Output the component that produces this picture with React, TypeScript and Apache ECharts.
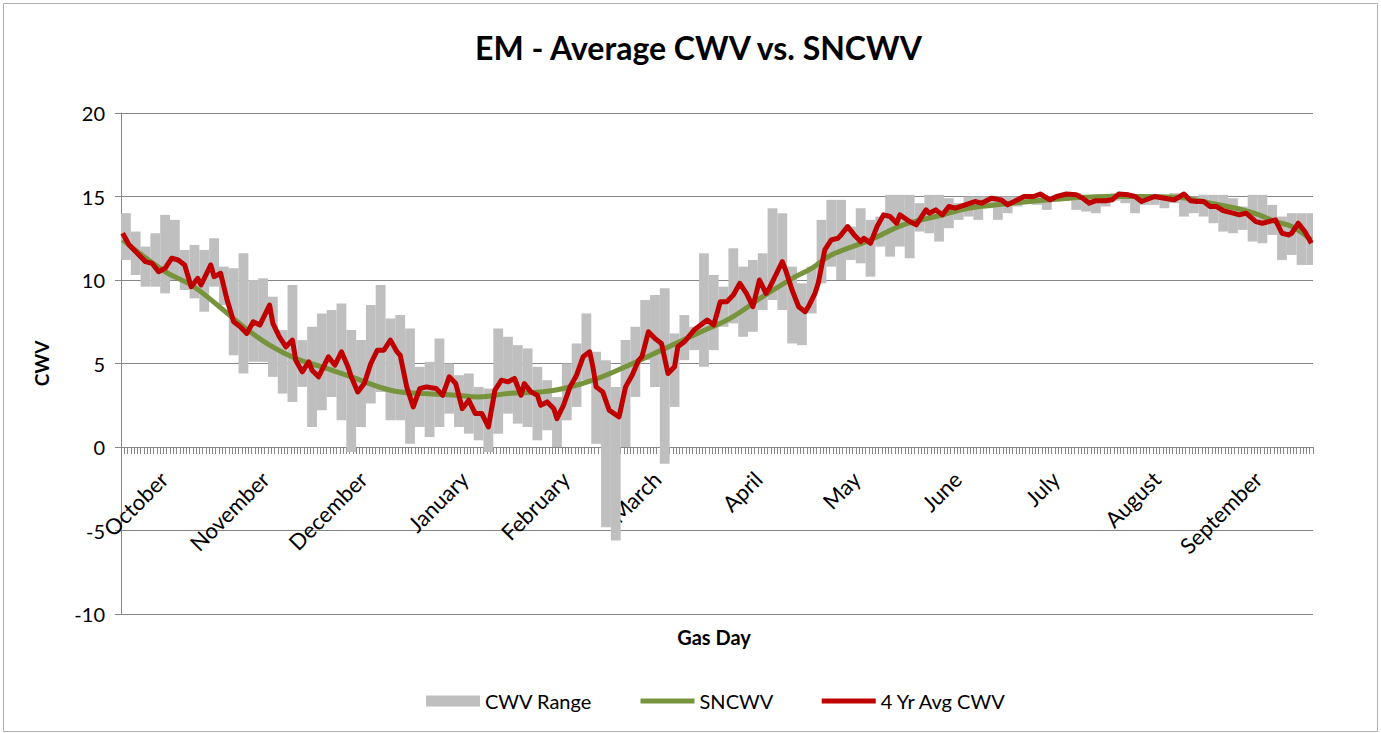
import React, { useEffect, useRef } from "react";
import * as echarts from "echarts";

// ---- categories: gas days Oct 1 .. Sep 30 ----
const months = ["October", "November", "December", "January", "February", "March", "April", "May", "June", "July", "August", "September"];
const monthDays = [31, 30, 31, 31, 28, 31, 30, 31, 30, 31, 31, 30];
const categories: string[] = months.flatMap((m, i) =>
  Array.from({ length: monthDays[i] }, (_, d) => `${m} ${d + 1}`)
);
const yTicks = [-10, -5, 0, 5, 10, 15, 20];

// ---- CWV Range: min / max per 3-day block (block i starts on day i*3) ----
const rangeHigh = [
  14.0, 12.9, 12.0, 12.8, 13.9, 13.6, 11.8, 12.1, 11.8, 12.5,
  10.8, 10.7, 11.6, 10.0, 10.1, 9.0, 7.0, 9.7, 6.4, 7.2,
  8.0, 8.2, 8.6, 7.0, 6.4, 8.5, 9.7, 7.7, 7.9, 7.1,
  4.8, 5.1, 6.5, 5.0, 4.3, 4.4, 3.6, 3.5, 7.1, 6.6,
  6.1, 5.9, 4.8, 4.0, 3.0, 5.0, 6.2, 8.0, 5.7, 5.2,
  3.6, 6.4, 7.2, 8.8, 9.1, 9.5, 6.8, 7.9, 7.2, 11.6,
  10.3, 9.6, 11.9, 10.8, 11.2, 11.6, 14.3, 14.0, 10.8, 9.8,
  10.8, 13.6, 14.8, 14.8, 13.2, 14.3, 13.6, 13.8, 15.1, 15.1,
  15.1, 14.6, 15.1, 15.1, 14.9, 14.6, 15.0, 15.0, 15.0, 15.0,
  15.0, 15.0, 15.1, 15.1, 15.0, 15.1, 15.2, 15.2, 15.1, 15.0,
  15.0, 15.2, 15.1, 15.0, 15.0, 15.0, 15.0, 15.2, 15.0, 15.0,
  15.1, 15.1, 15.1, 14.9, 14.4, 15.1, 15.1, 14.5, 13.8, 14.0,
  14.0, 14.0,
];
const rangeLow = [
  11.2, 10.3, 9.6, 9.6, 9.2, 10.0, 9.4, 8.9, 8.1, 9.6,
  8.5, 5.5, 4.4, 5.1, 5.1, 4.2, 3.2, 2.7, 3.6, 1.2,
  2.2, 3.0, 1.6, -0.3, 1.2, 2.6, 3.3, 1.6, 1.6, 0.2,
  1.2, 0.6, 1.2, 2.0, 1.2, 0.8, 0.4, -0.3, 0.8, 2.0,
  1.4, 1.2, 0.4, 1.0, 0.0, 1.6, 2.4, 4.0, 0.2, -4.8,
  -5.6, 0.0, 3.0, 5.2, 3.6, -1.0, 2.4, 5.2, 5.8, 4.8,
  5.8, 7.2, 7.4, 6.6, 6.9, 8.2, 8.8, 8.2, 6.2, 6.1,
  8.0, 9.8, 10.8, 10.0, 11.2, 11.0, 10.2, 12.0, 11.4, 12.0,
  11.3, 12.9, 12.8, 12.3, 13.1, 13.6, 13.8, 13.6, 14.3, 13.6,
  14.0, 14.4, 14.6, 14.5, 14.2, 14.7, 14.8, 14.2, 14.1, 14.0,
  14.4, 14.75, 14.6, 14.0, 14.5, 14.5, 14.3, 14.6, 13.8, 14.0,
  13.8, 13.4, 12.9, 12.8, 13.0, 12.3, 12.2, 12.7, 11.2, 11.5,
  10.9, 10.9,
];

// ---- SNCWV (seasonal normal) ----
const sncwvDays = [0, 13, 21, 29, 37, 45, 53, 61, 70, 82, 92, 102, 109, 118, 128, 135, 144, 155, 165, 176, 186, 196, 206, 211, 217, 229, 239, 249, 259, 270, 280, 290, 302, 312, 323, 333, 343, 348, 353, 358, 364];
const sncwvValues = [12.4, 10.5, 9.7, 8.5, 7.2, 6.1, 5.3, 4.8, 4.2, 3.4, 3.2, 3.1, 3.0, 3.2, 3.3, 3.5, 4.0, 4.9, 5.8, 6.8, 7.7, 9.0, 10.2, 10.7, 11.5, 12.4, 13.3, 13.8, 14.3, 14.55, 14.75, 14.9, 15.0, 15.0, 14.95, 14.6, 14.2, 13.9, 13.5, 13.2, 12.4];

// ---- 4 Yr Avg CWV ----
const avgDays = [
  0, 2, 5, 7, 9, 11, 13, 15, 17, 19, 21, 23, 24, 27, 28, 30, 32, 34, 36, 38,
  40, 42, 45, 46, 48, 50, 52, 53, 55, 57, 58, 60, 63, 65, 67, 69, 70, 72, 74, 76,
  78, 80, 82, 84, 85, 87, 89, 91, 93, 96, 98, 100, 102, 104, 106, 108, 110, 112, 114, 116,
  118, 120, 122, 123, 125, 127, 128, 130, 132, 133, 135, 137, 139, 141, 143, 144, 145, 147, 149, 152,
  154, 156, 158, 159, 161, 163, 165, 167, 169, 170, 172, 175, 177, 179, 181, 183, 185, 187, 189, 191,
  193, 195, 197, 198, 200, 202, 203, 205, 207, 209, 210, 212, 213, 215, 217, 219, 220, 222, 224, 226,
  227, 229, 231, 233, 235, 237, 238, 241, 243, 246, 247, 249, 251, 253, 255, 258, 261, 263, 266, 269,
  271, 273, 276, 279, 281, 284, 286, 289, 292, 294, 296, 298, 301, 303, 305, 308, 310, 312, 316, 319,
  322, 325, 327, 329, 331, 333, 335, 337, 340, 342, 344, 347, 349, 351, 353, 355, 357, 358, 360, 362,
  364,
];
const avgValues = [
  12.8, 12.1, 11.5, 11.1, 11.0, 10.5, 10.7, 11.3, 11.2, 10.9, 9.6, 10.1, 9.7, 10.9, 10.2, 10.4, 8.8, 7.5, 7.2, 6.8,
  7.5, 7.3, 8.5, 7.4, 6.6, 6.0, 6.4, 5.2, 4.5, 5.1, 4.6, 4.2, 5.4, 4.9, 5.7, 4.8, 4.2, 3.3, 3.8, 5.0,
  5.8, 5.8, 6.4, 5.7, 5.5, 3.6, 2.4, 3.5, 3.6, 3.5, 3.1, 4.2, 3.8, 2.3, 2.8, 2.0, 2.0, 1.2, 3.4, 4.0,
  3.9, 4.1, 3.1, 3.8, 3.3, 3.1, 2.5, 2.7, 2.3, 1.7, 2.5, 3.6, 4.3, 5.4, 5.7, 4.8, 3.6, 3.3, 2.2, 1.8,
  3.6, 4.3, 5.2, 5.4, 6.9, 6.5, 6.2, 4.4, 4.8, 6.0, 6.3, 7.0, 7.3, 7.6, 7.3, 8.7, 8.7, 9.1, 9.8, 9.2,
  8.4, 10.0, 9.2, 9.5, 10.3, 11.1, 10.6, 9.4, 8.4, 8.1, 8.4, 9.2, 9.8, 11.8, 12.4, 12.5, 12.7, 13.2, 12.7, 12.3,
  12.5, 12.2, 13.2, 13.9, 13.8, 13.4, 13.9, 13.5, 13.3, 14.2, 14.0, 14.2, 13.9, 14.4, 14.3, 14.5, 14.7, 14.6, 14.9, 14.8,
  14.5, 14.7, 15.0, 15.0, 15.15, 14.8, 15.0, 15.15, 15.1, 14.9, 14.6, 14.75, 14.75, 14.8, 15.15, 15.1, 15.0, 14.7, 15.0, 14.9,
  14.8, 15.15, 14.75, 14.7, 14.7, 14.4, 14.4, 14.15, 14.0, 13.9, 14.0, 13.5, 13.4, 13.5, 13.6, 12.8, 12.7, 12.8, 13.4, 12.9,
  12.2,
];

const FONT = "Lato, 'Open Sans', sans-serif";
const NO_SYMBOL = { color: "rgba(0,0,0,0)", borderColor: "rgba(0,0,0,0)", borderWidth: 0 };

export default function App() {
  const ref = useRef<HTMLDivElement>(null);

  useEffect(() => {
    document.body.style.margin = "0";
    if (!ref.current) return;
    const chart = echarts.init(ref.current, undefined, { renderer: "svg" });
    const nDays = categories.length;

    const rangeData = rangeLow.map((lo, i) => [i * 3, Math.min(i * 3 + 3, nDays), lo, rangeHigh[i]]);
    const sncwvData = sncwvDays.map((d, i) => [d + 0.5, sncwvValues[i]]);
    const avgData = avgDays.map((d, i) => [d + 0.5, avgValues[i]]);

    // grid: y=20 at 113px, y=-10 at 614px -> zero line 167px above the bottom
    const zeroOffset = -167;

    chart.setOption({
      animation: false,
      backgroundColor: "#ffffff",
      title: {
        text: "EM - Average CWV vs. SNCWV",
        left: 470,
        top: 26,
        textStyle: { fontFamily: FONT, fontSize: 32, fontWeight: "bold", color: "#000" },
      },
      legend: {
        data: [
          { name: "CWV Range", icon: "rect" },
          { name: "SNCWV", itemStyle: NO_SYMBOL, lineStyle: { width: 5 } },
          { name: "4 Yr Avg CWV", itemStyle: NO_SYMBOL, lineStyle: { width: 5 } },
        ],
        left: 421,
        top: 686,
        itemWidth: 54,
        itemHeight: 11,
        itemGap: 46,
        textStyle: { fontFamily: FONT, fontSize: 20, color: "#000" },
      },
      grid: { left: 121, top: 113, width: 1192, height: 501, containLabel: false },
      xAxis: [
        {
          type: "category",
          data: categories,
          boundaryGap: true,
          position: "bottom",
          offset: zeroOffset,
          axisLine: { show: true, onZero: false, lineStyle: { color: "#868686", width: 1 } },
          axisTick: { show: true, interval: 0, length: 7, lineStyle: { color: "#868686" } },
          axisLabel: {
            interval: (idx: number, val: string) => val.endsWith(" 16"),
            formatter: (val: string) => val.split(" ")[0],
            rotate: 45,
            margin: 36,
            align: "right",
            verticalAlign: "bottom",
            fontFamily: FONT,
            fontSize: 22,
            color: "#000",
          },
          splitLine: { show: false },
        },
        { type: "value", min: 0, max: nDays, show: false },
      ],
      yAxis: {
        type: "value",
        min: -10,
        max: 20,
        interval: 5,
        name: "CWV",
        nameLocation: "middle",
        nameGap: 70,
        nameRotate: 90,
        nameTextStyle: { fontFamily: FONT, fontSize: 19, fontWeight: "bold", color: "#000" },
        axisLine: { show: true, lineStyle: { color: "#868686" } },
        axisTick: { show: true, length: 6, lineStyle: { color: "#868686" } },
        axisLabel: {
          margin: 16,
          fontFamily: FONT,
          fontSize: 20,
          color: "#000",
          formatter: (v: number) => (yTicks.includes(v) ? String(v) : ""),
        },
        splitLine: { show: true, lineStyle: { color: "#868686", width: 1 } },
      },
      graphic: [
        {
          type: "rect",
          shape: { x: 3.5, y: 3.5, width: 1374, height: 728 },
          style: { fill: "none", stroke: "#b0b0b0", lineWidth: 1 },
          silent: true,
        },
        {
          type: "text",
          x: 714,
          y: 637,
          style: {
            text: "Gas Day",
            align: "center",
            verticalAlign: "middle",
            fontFamily: FONT,
            fontSize: 20,
            fontWeight: "bold",
            fill: "#000",
          },
        },
      ],
      series: [
        {
          name: "CWV Range",
          type: "custom",
          xAxisIndex: 1,
          yAxisIndex: 0,
          itemStyle: { color: "#bfbfbf" },
          encode: { x: [0, 1], y: [2, 3] },
          data: rangeData,
          z: 1,
          renderItem: (params: any, api: any) => {
            const s = api.value(0);
            const e = api.value(1);
            const lo = api.value(2);
            const hi = api.value(3);
            const p1 = api.coord([s, hi]);
            const p2 = api.coord([e, lo]);
            return {
              type: "rect",
              shape: { x: p1[0], y: p1[1], width: p2[0] - p1[0], height: p2[1] - p1[1] },
              style: { fill: "#bfbfbf" },
            };
          },
        },
        {
          name: "SNCWV",
          type: "line",
          xAxisIndex: 1,
          yAxisIndex: 0,
          data: sncwvData,
          smooth: 0.4,
          symbol: "none",
          itemStyle: { color: "#77933c" },
          lineStyle: { color: "#77933c", width: 5 },
          z: 3,
        },
        {
          name: "4 Yr Avg CWV",
          type: "line",
          xAxisIndex: 1,
          yAxisIndex: 0,
          data: avgData,
          symbol: "none",
          itemStyle: { color: "#c00000" },
          lineStyle: { color: "#c00000", width: 5, join: "round" },
          z: 4,
        },
      ],
    });

    return () => chart.dispose();
  }, []);

  return <div ref={ref} style={{ width: 1381, height: 733 }} />;
}
